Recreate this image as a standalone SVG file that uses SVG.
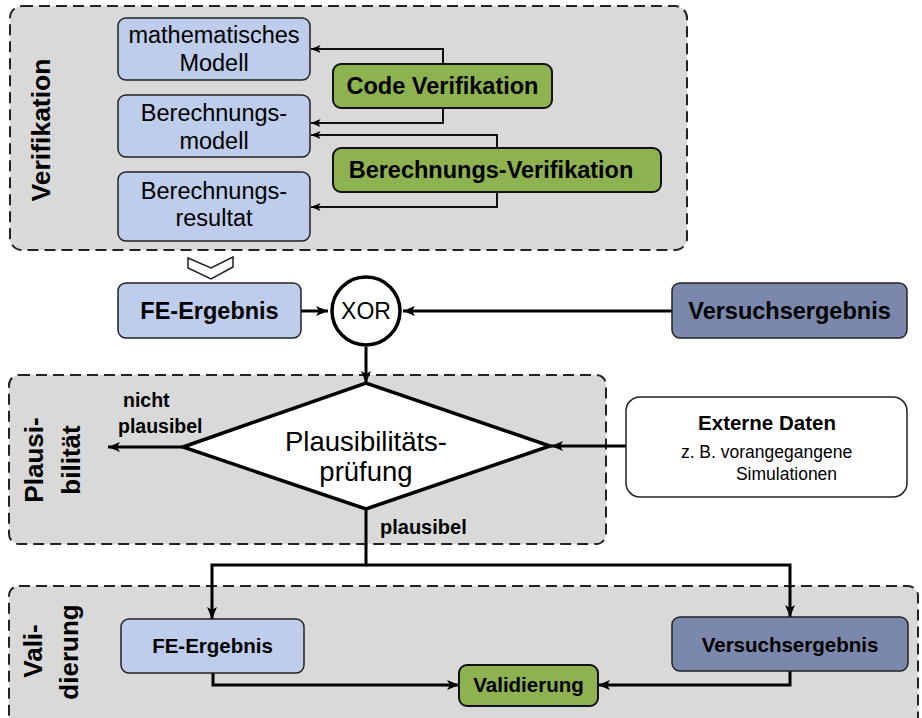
<svg xmlns="http://www.w3.org/2000/svg" width="922" height="718" viewBox="0 0 922 718">
<style>
  text { font-family: "Liberation Sans", Arial, sans-serif; fill: #000; }
  .grp { fill: #d9d9d9; stroke: #222; stroke-width: 2; stroke-dasharray: 11 6; }
  .blue { fill: #bdcdeb; stroke: #222; stroke-width: 1.5; }
  .dblue { fill: #7b88ab; stroke: #222; stroke-width: 1.5; }
  .green { fill: #8db24f; stroke: #111; stroke-width: 2; }
  .white { fill: #fff; stroke: #222; stroke-width: 1.5; }
  .b { font-weight: bold; }
  .m { text-anchor: middle; }
  .thin { fill: none; stroke: #111; stroke-width: 2; }
  .thick { fill: none; stroke: #000; stroke-width: 3; }
</style>
<defs>
  <marker id="ah" viewBox="0 0 12 10" refX="12" refY="5" markerWidth="12" markerHeight="10" orient="auto" markerUnits="userSpaceOnUse">
    <path d="M0,0 L12,5 L0,10 L3,5 z" fill="#000"/>
  </marker>
  <marker id="ahs" viewBox="0 0 12 10" refX="12" refY="5" markerWidth="11" markerHeight="8" orient="auto" markerUnits="userSpaceOnUse">
    <path d="M0,0 L12,5 L0,10 L3,5 z" fill="#000"/>
  </marker>
</defs>

<!-- groups -->
<g id="grp-verifikation">
  <rect class="grp" x="10" y="6" width="677" height="244" rx="12"/>
  <text class="b m" font-size="26.5" transform="translate(50,130) rotate(-90)">Verifikation</text>
</g>
<g id="grp-plausibilitaet">
  <rect class="grp" x="9" y="375" width="597" height="169" rx="10"/>
  <text class="b m" font-size="26" transform="translate(43,460) rotate(-90)">Plausi-</text>
  <text class="b m" font-size="26" transform="translate(80,460) rotate(-90)">bilität</text>
</g>
<g id="grp-validierung">
  <rect class="grp" x="9" y="586" width="909" height="145" rx="10"/>
  <text class="b m" font-size="26" transform="translate(42,651) rotate(-90)">Vali-</text>
  <text class="b m" font-size="26" transform="translate(78,652) rotate(-90)">dierung</text>
</g>

<!-- connectors -->
<g id="connectors">
  <path class="thin" d="M443,64 V49 H311" marker-end="url(#ahs)"/>
  <path class="thin" d="M443,108 V123 H311" marker-end="url(#ahs)"/>
  <path class="thin" d="M497,148 V135 H311" marker-end="url(#ahs)"/>
  <path class="thin" d="M497,192 V207 H311" marker-end="url(#ahs)"/>
  <path class="thick" d="M301,311 H328" marker-end="url(#ah)"/>
  <path class="thick" d="M672,311 H403" marker-end="url(#ah)"/>
  <path class="thick" d="M366,347 V383" marker-end="url(#ah)"/>
  <path class="thick" d="M183,447 H108" marker-end="url(#ah)"/>
  <path class="thick" d="M626,446 H551" marker-end="url(#ah)"/>
  <path class="thick" d="M366,508 V565 H212 V619" marker-end="url(#ah)"/>
  <path class="thick" d="M366,565 H790 V617" marker-end="url(#ah)"/>
  <path class="thick" d="M213,673 V685 H459" marker-end="url(#ah)"/>
  <path class="thick" d="M790,671 V685 H598" marker-end="url(#ah)"/>
  <polygon points="188,258 211,268 233,257 233,267 211,279 188,268" fill="#fff" stroke="#222" stroke-width="1.5"/>
</g>

<!-- nodes -->
<g id="n-math-modell">
  <rect class="blue" x="118" y="18" width="192" height="62" rx="8"/>
  <text class="m" font-size="23.5" x="214" y="43">mathematisches</text>
  <text class="m" font-size="23.5" x="214" y="71">Modell</text>
</g>
<g id="n-berechnungsmodell">
  <rect class="blue" x="118" y="95" width="192" height="62" rx="8"/>
  <text class="m" font-size="23.5" x="214" y="121">Berechnungs-</text>
  <text class="m" font-size="23.5" x="214" y="149">modell</text>
</g>
<g id="n-berechnungsresultat">
  <rect class="blue" x="118" y="172" width="192" height="69" rx="8"/>
  <text class="m" font-size="23.5" x="214" y="199">Berechnungs-</text>
  <text class="m" font-size="23.5" x="214" y="226">resultat</text>
</g>
<g id="n-code-verifikation">
  <rect class="green" x="333" y="64" width="219" height="44" rx="8"/>
  <text class="b m" font-size="23.5" x="442.5" y="94">Code Verifikation</text>
</g>
<g id="n-berechnungs-verifikation">
  <rect class="green" x="333" y="148" width="328" height="44" rx="8"/>
  <text class="b m" font-size="23.5" x="491" y="178">Berechnungs-Verifikation</text>
</g>
<g id="n-fe-ergebnis-top">
  <rect class="blue" x="118" y="283" width="183" height="55" rx="8"/>
  <text class="b m" font-size="23.5" x="209.5" y="319">FE-Ergebnis</text>
</g>
<g id="n-xor">
  <circle cx="366" cy="311" r="34" fill="#fff" stroke="#000" stroke-width="3.5"/>
  <text class="m" font-size="23" x="366" y="319">XOR</text>
</g>
<g id="n-versuchsergebnis-top">
  <rect class="dblue" x="672" y="283" width="235" height="55" rx="8"/>
  <text class="b m" font-size="23.5" x="789.5" y="319">Versuchsergebnis</text>
</g>
<g id="n-plausibilitaetspruefung">
  <polygon points="183,447 366,383 550,446 366,509" fill="#fff" stroke="#000" stroke-width="3.5" stroke-linejoin="miter"/>
  <text class="m" font-size="27.5" x="366" y="451">Plausibilitäts-</text>
  <text class="m" font-size="27.5" x="366" y="481">prüfung</text>
</g>
<g id="lbl-nicht-plausibel">
  <text class="b" font-size="19.5" x="123" y="407">nicht</text>
  <text class="b" font-size="19.5" x="118" y="433">plausibel</text>
</g>
<g id="lbl-plausibel">
  <text class="b" font-size="20" x="380" y="534">plausibel</text>
</g>
<g id="n-externe-daten">
  <rect class="white" x="626" y="397" width="281" height="100" rx="14"/>
  <text class="b m" font-size="20.5" x="767" y="430">Externe Daten</text>
  <text class="m" font-size="17.5" x="766.5" y="458">z. B. vorangegangene</text>
  <text class="m" font-size="17.5" x="786.5" y="480">Simulationen</text>
</g>
<g id="n-fe-ergebnis-bottom">
  <rect class="blue" x="121" y="619" width="183" height="54" rx="8"/>
  <text class="b m" font-size="20.5" x="212.5" y="653">FE-Ergebnis</text>
</g>
<g id="n-versuchsergebnis-bottom">
  <rect class="dblue" x="672" y="617" width="236" height="54" rx="8"/>
  <text class="b m" font-size="20.5" x="790" y="652">Versuchsergebnis</text>
</g>
<g id="n-validierung">
  <rect class="green" x="459" y="665" width="139" height="41" rx="8"/>
  <text class="b m" font-size="20.5" x="528.5" y="692">Validierung</text>
</g>
</svg>
